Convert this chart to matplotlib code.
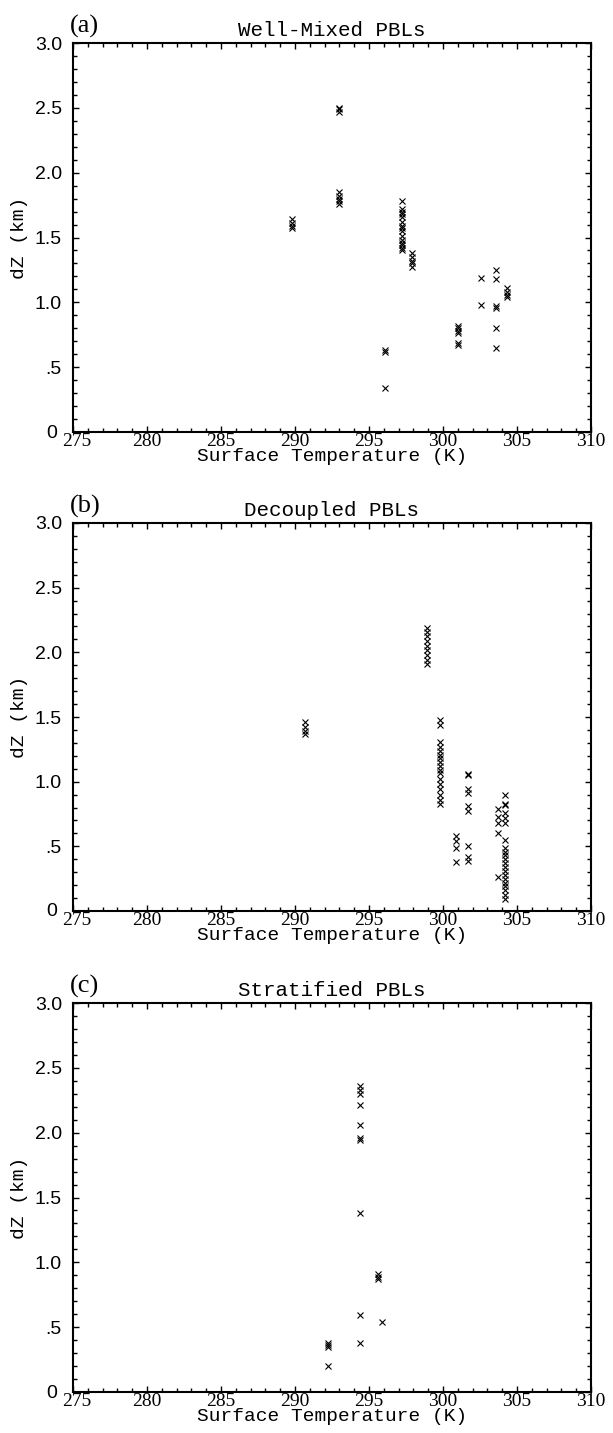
import numpy as np
import matplotlib
matplotlib.use('Agg')
import matplotlib.pyplot as plt
import matplotlib.transforms as mtransforms
from matplotlib.ticker import MultipleLocator, FixedLocator

# each panel: one surface temperature (K) per column, and the dZ (km) values in it
wm_T = [289.8, 293.0, 297.2, 297.9, 302.6, 303.6, 304.3, 301.0, 296.1]
wm_dZ = [[1.64, 1.61, 1.59, 1.57],
         [2.50, 2.49, 2.47, 1.85, 1.82, 1.80, 1.78, 1.76],
         [1.78, 1.72, 1.70, 1.68, 1.66, 1.62, 1.59, 1.57, 1.55, 1.51, 1.48,
          1.46, 1.44, 1.42, 1.40],
         [1.38, 1.35, 1.32, 1.30, 1.27],
         [1.19, 0.98],
         [1.25, 1.18, 0.97, 0.96, 0.80, 0.65],
         [1.11, 1.08, 1.06, 1.04],
         [0.82, 0.80, 0.78, 0.76, 0.69, 0.67],
         [0.63, 0.62, 0.34]]

dc_T = [290.7, 298.9, 299.8, 301.7, 300.9, 303.7, 304.2]
dc_dZ = [[1.46, 1.42, 1.39, 1.37],
         [2.19, 2.16, 2.13, 2.09, 2.05, 2.02, 1.98, 1.94, 1.91],
         [1.48, 1.44, 1.31, 1.27, 1.24, 1.21, 1.18, 1.15, 1.12, 1.09, 1.07,
          1.02, 0.98, 0.94, 0.90, 0.86, 0.83],
         [1.06, 1.05, 0.94, 0.91, 0.81, 0.77, 0.50, 0.42, 0.39],
         [0.58, 0.54, 0.49, 0.38],
         [0.79, 0.73, 0.68, 0.60, 0.26],
         [0.90, 0.83, 0.82, 0.76, 0.72, 0.68, 0.55, 0.49, 0.46, 0.43, 0.40,
          0.37, 0.34, 0.31, 0.28, 0.25, 0.22, 0.19, 0.16, 0.12, 0.09]]

st_T = [292.2, 294.4, 295.6, 295.9]
st_dZ = [[0.38, 0.36, 0.35, 0.20],
         [2.36, 2.33, 2.30, 2.21, 2.06, 1.96, 1.94, 1.38, 0.59, 0.38],
         [0.91, 0.89, 0.87],
         [0.54]]

panels = [('(a)', 'Well-Mixed PBLs', wm_T, wm_dZ),
          ('(b)', 'Decoupled PBLs', dc_T, dc_dZ),
          ('(c)', 'Stratified PBLs', st_T, st_dZ)]

# axes boxes in pixels (top, bottom) of a 613x1433 figure
W, H = 613.0, 1433.0
boxes = [(43, 432), (523, 911), (1003, 1392)]
left, right = 73, 591

xticks = [275, 280, 285, 290, 295, 300, 305, 310]
yticks = [0, 0.5, 1.0, 1.5, 2.0, 2.5, 3.0]
ylabels = ['0', '.5', '1.0', '1.5', '2.0', '2.5', '3.0']

fig = plt.figure(figsize=(W / 100, H / 100), dpi=100)

def nudge(txt, dx, dy):
    # shift a tick label by (dx, dy) pixels
    txt.set_transform(txt.get_transform() +
                      mtransforms.ScaledTranslation(dx / 100, dy / 100, fig.dpi_scale_trans))

for (tag, title, T, dZ), (top, bot) in zip(panels, boxes):
    ax = fig.add_axes([left / W, 1 - bot / H, (right - left) / W, (bot - top) / H])
    xs = [t for t, col in zip(T, dZ) for _ in col]
    ys = [z for col in dZ for z in col]
    ax.plot(xs, ys, 'x', color='black', markersize=4.5, markeredgewidth=0.8)
    ax.set_xlim(275, 310)
    ax.set_ylim(0, 3)
    ax.xaxis.set_major_locator(FixedLocator(xticks))
    ax.xaxis.set_minor_locator(MultipleLocator(1))
    ax.yaxis.set_major_locator(FixedLocator(yticks))
    ax.yaxis.set_minor_locator(MultipleLocator(0.1))
    ax.set_xticklabels([str(v) for v in xticks], family='Liberation Serif', fontsize=14)
    ax.set_yticklabels(ylabels, family='Liberation Sans', fontsize=14)
    ax.tick_params(which='both', direction='in', top=True, right=True, width=1.0)
    ax.tick_params(which='major', length=4.5)
    ax.tick_params(which='minor', length=3)
    ax.tick_params(axis='x', pad=1)
    ax.tick_params(axis='y', pad=8)
    for s in ax.spines.values():
        s.set_linewidth(1.5)
    nudge(ax.get_xticklabels()[0], 4, 0)
    nudge(ax.get_yticklabels()[0], -5, 1)
    ax.set_title(title, family='Liberation Mono', fontsize=15, pad=5)
    ax.text(-0.006, 1.012, tag, transform=ax.transAxes, family='Liberation Serif',
            fontsize=19, ha='left', va='bottom')
    ax.set_xlabel('Surface Temperature (K)', family='Liberation Mono', fontsize=14,
                  labelpad=-2)
    ax.set_ylabel('dZ (km)', family='Liberation Mono', fontsize=14, labelpad=5)

fig.savefig('out.png', dpi=100)
